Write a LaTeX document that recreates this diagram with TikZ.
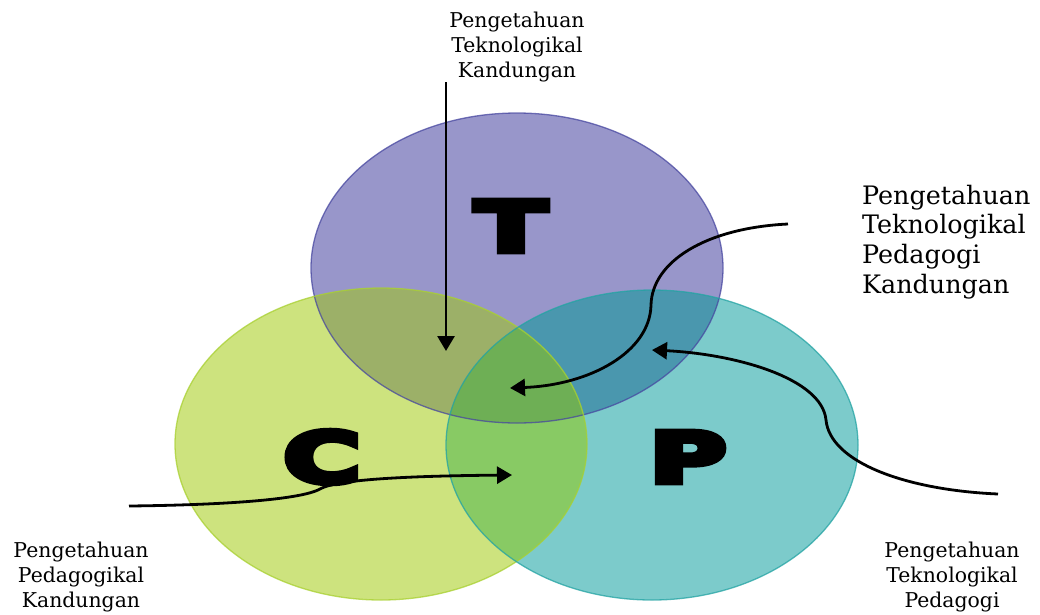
\documentclass[tikz,border=0pt]{standalone}
\usepackage{fontspec}
\setmainfont{DejaVu Serif}
\newfontfamily\letterfont[BoldFont={DejaVu Sans Bold}, BoldFeatures={FakeBold=8}]{DejaVu Sans}
\usetikzlibrary{arrows.meta}

\definecolor{tfill}{HTML}{9896CA}
\definecolor{cfill}{HTML}{CDE37E}
\definecolor{pfill}{HTML}{7CCBCB}
\definecolor{tcfill}{HTML}{9CB068}
\definecolor{tpfill}{HTML}{4A97AE}
\definecolor{cpfill}{HTML}{88CA64}
\definecolor{tcpfill}{HTML}{6EAF55}
\definecolor{tline}{HTML}{4747A0}
\definecolor{cline}{HTML}{A8D030}
\definecolor{pline}{HTML}{23A3A3}

\tikzset{
  small label/.style={font=\fontsize{20.4}{25}\selectfont, align=center, inner sep=0pt},
  big label/.style={font=\fontsize{25.4}{29.7}\selectfont, align=left, inner sep=0pt},
  letter/.style={font=\letterfont\bfseries\fontsize{70}{70}\selectfont, xscale=1.5, inner sep=0pt},
  pointer/.style={line width=2.8pt, -{Triangle[length=15pt,width=17pt]}},
  rim/.style={line width=1.3pt, draw opacity=0.75}
}

\begin{document}
\begin{tikzpicture}[x=1pt,y=-1pt]
\useasboundingbox (0,0) rectangle (1040,614);
\fill[white] (0,0) rectangle (1040,614);

% circle centres
\coordinate (Tc) at (517,268);
\coordinate (Cc) at (381,444);
\coordinate (Pc) at (652,445);

% base fills
\fill[tfill] (Tc) ellipse [x radius=206pt, y radius=155pt];
\fill[cfill] (Cc) ellipse [x radius=206pt, y radius=156pt];
\fill[pfill] (Pc) ellipse [x radius=206pt, y radius=155pt];

% pairwise overlaps
\begin{scope}
  \clip (Tc) ellipse [x radius=206pt, y radius=155pt];
  \fill[tcfill] (Cc) ellipse [x radius=206pt, y radius=156pt];
  \fill[tpfill] (Pc) ellipse [x radius=206pt, y radius=155pt];
\end{scope}
\begin{scope}
  \clip (Cc) ellipse [x radius=206pt, y radius=156pt];
  \fill[cpfill] (Pc) ellipse [x radius=206pt, y radius=155pt];
  % centre region shared by all three
  \clip (Pc) ellipse [x radius=206pt, y radius=155pt];
  \fill[tcpfill] (Tc) ellipse [x radius=206pt, y radius=155pt];
\end{scope}

% outlines
\draw[rim, tline] (Tc) ellipse [x radius=206pt, y radius=155pt];
\draw[rim, cline] (Cc) ellipse [x radius=206pt, y radius=156pt];
\draw[rim, pline] (Pc) ellipse [x radius=206pt, y radius=155pt];

% circle letters
\node[letter] (T) at (511,226) {T};
\node[letter] (C) at (322,457) {C};
\node[letter] (P) at (688,457) {P};

% labels
\node[small label] (tck) at (517,47) {Pengetahuan\\Teknologikal\\Kandungan};
\node[big label, anchor=west] (tpck) at (862,242) {Pengetahuan\\Teknologikal\\Pedagogi\\Kandungan};
\node[small label] (pck) at (81,577) {Pengetahuan\\Pedagogikal\\Kandungan};
\node[small label] (tpk) at (952,577) {Pengetahuan\\Teknologikal\\Pedagogi};

% arrow ends
\coordinate (tckS) at (446,82);
\coordinate (tckE) at (446,351);
\coordinate (tpckS) at (788,224);
\coordinate (tpckM) at (651,305);
\coordinate (tpckE) at (510,388);
\coordinate (tpkS) at (998,494);
\coordinate (tpkM) at (826,420);
\coordinate (tpkE) at (652,350);
\coordinate (pckS) at (129,506);
\coordinate (pckM) at (320,489);
\coordinate (pckE) at (512,475);

% arrows
\draw[pointer] (tckS) -- (tckE);
\draw[pointer] (tpckS) .. controls (705,228) and (652,262) .. (tpckM)
                       .. controls (650,352) and (590,385) .. (tpckE);
\draw[pointer] (tpkS) .. controls (905,490) and (830,462) .. (tpkM)
                      .. controls (822,378) and (735,354) .. (tpkE);
\draw[pointer] (pckS) .. controls (220,505) and (300,500) .. (pckM)
                      .. controls (335,480) and (400,476) .. (pckE);
\end{tikzpicture}
\end{document}
